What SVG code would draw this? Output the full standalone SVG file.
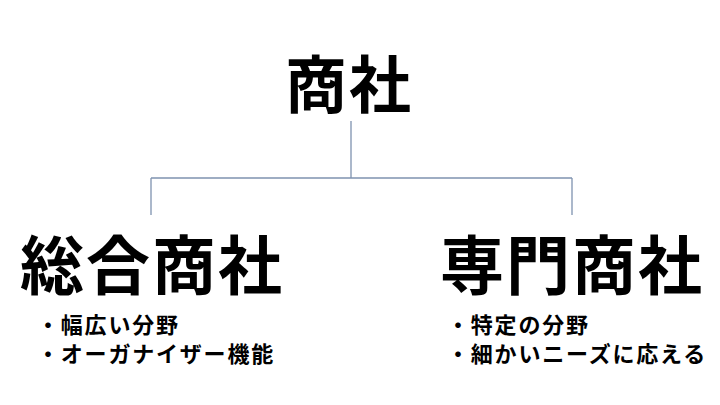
<svg xmlns="http://www.w3.org/2000/svg" width="720" height="405" viewBox="0 0 720 405">
<style>
.t{font-family:"Noto Sans CJK JP","Noto Sans CJK SC",sans-serif;font-weight:bold;fill:#000}
.h{font-size:64px;letter-spacing:2px}
.b{font-size:22px;letter-spacing:1.8px}
.c{stroke:#7f93b0;stroke-width:1.3;fill:none}
</style>
<rect width="720" height="405" fill="#fff"/>
<g id="connectors">
<path class="c" d="M351 121V178M151 178H572M151 178V215M572 178V215"/>
</g>
<g id="node-shosha">
<text class="t h" x="349" y="108" text-anchor="middle" style="font-size:62px">商社</text>
</g>
<g id="node-sogo">
<text class="t h" x="20" y="289">総合商社</text>
<text class="t b" x="37" y="333">・幅広い分野</text>
<text class="t b" x="37" y="362">・オーガナイザー機能</text>
</g>
<g id="node-senmon">
<text class="t h" x="440" y="289">専門商社</text>
<text class="t b" x="447" y="333">・特定の分野</text>
<text class="t b" x="447" y="362">・細かいニーズに応える</text>
</g>
</svg>
